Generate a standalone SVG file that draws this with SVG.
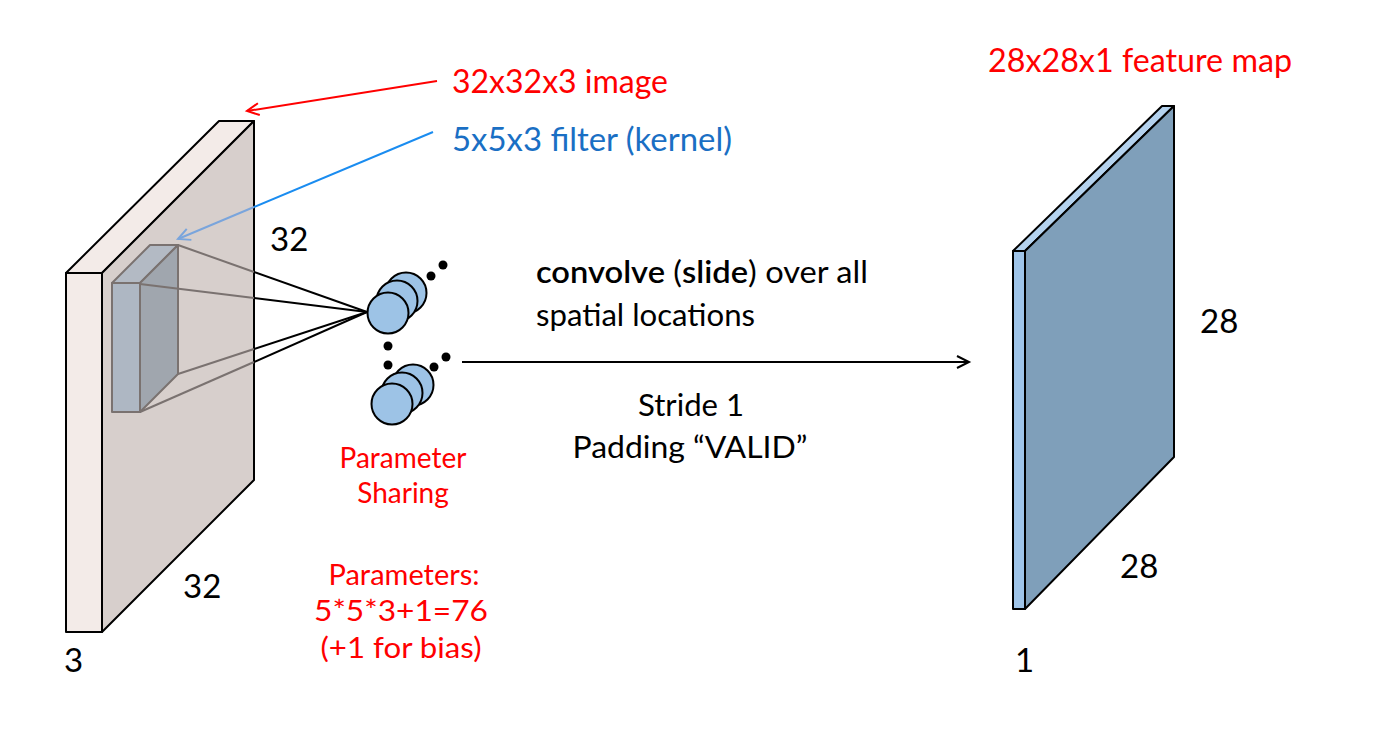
<svg xmlns="http://www.w3.org/2000/svg" width="1396" height="742" viewBox="0 0 1396 742">
<defs>
<style>
text{font-family:Lato,"Open Sans","Liberation Sans",sans-serif;}
.blk{fill:#000;}
.red{fill:#ff0000;}
.blu{fill:#1a6fc4;}
.edge{stroke:#000;stroke-width:2;stroke-linejoin:round;}
.neu{fill:#9dc3e6;stroke:#000;stroke-width:2;}
.dot{fill:#000;}
.flt{stroke:#7a7270;stroke-width:2;stroke-linejoin:round;}
</style>
<marker id="ahRed" markerWidth="20" markerHeight="20" refX="14" refY="8" orient="auto" markerUnits="userSpaceOnUse">
<path d="M2,2 L14,8 L2,14" fill="none" stroke="#ff0000" stroke-width="2"/>
</marker>
<marker id="ahBlue" markerWidth="20" markerHeight="20" refX="14" refY="8" orient="auto" markerUnits="userSpaceOnUse">
<path d="M2,2 L14,8 L2,14" fill="none" stroke="#7aa5dc" stroke-width="2"/>
</marker>
<marker id="ahBlk" markerWidth="20" markerHeight="20" refX="14" refY="8" orient="auto" markerUnits="userSpaceOnUse">
<path d="M2,2 L14,8 L2,14" fill="none" stroke="#000" stroke-width="2"/>
</marker>
</defs>
<rect width="1396" height="742" fill="#fff"/>

<g id="input-volume">
<polygon points="66,273 219,121 254,121 102,273" fill="#f3ebe8" class="edge"/>
<rect x="66" y="273" width="36" height="359" fill="#f3ebe8" class="edge"/>
<polygon points="102,273 254,121 254,480 102,632" fill="#d7cfcc" class="edge"/>
</g>

<g id="filter">
<polygon points="112,283 150,245 178,245 140,283" fill="#b3bac4" class="flt"/>
<rect x="112" y="283" width="28" height="129" fill="#aeb7c3" class="flt"/>
<polygon points="140,283 178,245 178,374 140,412" fill="#a0a6ae" class="flt"/>
</g>

<g id="connectors">
<g stroke="#7a7270" stroke-width="2">
<line x1="178" y1="245" x2="254" y2="272"/>
<line x1="140" y1="284" x2="254" y2="298"/>
<line x1="178" y1="374" x2="254" y2="349"/>
<line x1="140" y1="412" x2="254" y2="362"/>
</g>
<g stroke="#000" stroke-width="2">
<line x1="254" y1="272" x2="367" y2="312"/>
<line x1="254" y1="298" x2="367" y2="312"/>
<line x1="254" y1="349" x2="367" y2="312"/>
<line x1="254" y1="362" x2="367" y2="312"/>
</g>
<line x1="437" y1="81" x2="247" y2="111" stroke="#ff0000" stroke-width="2" marker-end="url(#ahRed)"/>
<line x1="433" y1="132" x2="254" y2="207" stroke="#1a8cf0" stroke-width="2"/>
<line x1="254" y1="207" x2="178" y2="239" stroke="#7aa5dc" stroke-width="2" marker-end="url(#ahBlue)"/>
<line x1="462" y1="362" x2="969" y2="362" stroke="#000" stroke-width="2" marker-end="url(#ahBlk)"/>
</g>

<g id="neuron-top">
<circle cx="406" cy="293" r="20.5" class="neu"/>
<circle cx="397" cy="301" r="20.5" class="neu"/>
<circle cx="388" cy="313" r="20.5" class="neu"/>
<circle cx="431" cy="276" r="4.5" class="dot"/>
<circle cx="443" cy="265" r="4.5" class="dot"/>
</g>
<g id="neuron-dots">
<circle cx="388" cy="346" r="4.5" class="dot"/>
<circle cx="388" cy="365" r="4.5" class="dot"/>
<circle cx="434" cy="367" r="4.5" class="dot"/>
<circle cx="446" cy="357" r="4.5" class="dot"/>
</g>
<g id="neuron-bottom">
<circle cx="413" cy="385" r="20.5" class="neu"/>
<circle cx="402" cy="393" r="20.5" class="neu"/>
<circle cx="392" cy="404" r="20.5" class="neu"/>
</g>

<g id="output-map">
<polygon points="1013,251 1162,106 1174,106 1025,251" fill="#b4d2ee" class="edge"/>
<rect x="1013" y="251" width="12" height="358" fill="#9fc4e8" class="edge"/>
<polygon points="1025,251 1174,106 1174,457 1025,609" fill="#7f9fba" class="edge"/>
</g>

<g id="labels">
<text x="452" y="93" font-size="32" class="red" textLength="216" lengthAdjust="spacingAndGlyphs">32x32x3 image</text>
<text x="452" y="151" font-size="32" class="blu" textLength="280" lengthAdjust="spacingAndGlyphs">5x5x3 filter (kernel)</text>
<text x="988" y="72" font-size="32" class="red" textLength="304" lengthAdjust="spacingAndGlyphs">28x28x1 feature map</text>
<text x="270" y="251" font-size="33" class="blk">32</text>
<text x="183" y="598" font-size="33" class="blk">32</text>
<text x="64" y="672" font-size="33" class="blk">3</text>
<text x="1200" y="333" font-size="33" class="blk">28</text>
<text x="1120" y="578" font-size="33" class="blk">28</text>
<text x="1015" y="672" font-size="33" class="blk">1</text>
<text x="536" y="283" font-size="30" class="blk" textLength="332" lengthAdjust="spacingAndGlyphs"><tspan font-weight="600">convolve</tspan> (<tspan font-weight="600">slide</tspan>) over all</text>
<text x="536" y="326" font-size="30" class="blk" textLength="219" lengthAdjust="spacingAndGlyphs">spatial locations</text>
<text x="691" y="416" font-size="30" class="blk" text-anchor="middle" textLength="106" lengthAdjust="spacingAndGlyphs">Stride 1</text>
<text x="690" y="458" font-size="30" class="blk" text-anchor="middle" textLength="235" lengthAdjust="spacingAndGlyphs">Padding “VALID”</text>
<text x="403" y="468" font-size="28" class="red" text-anchor="middle">Parameter</text>
<text x="403" y="503" font-size="28" class="red" text-anchor="middle">Sharing</text>
<text x="404" y="585" font-size="28" class="red" text-anchor="middle" textLength="151" lengthAdjust="spacingAndGlyphs">Parameters:</text>
<text x="401" y="621" font-size="28" class="red" text-anchor="middle" textLength="174" lengthAdjust="spacingAndGlyphs">5*5*3+1=76</text>
<text x="401" y="658" font-size="28" class="red" text-anchor="middle" textLength="161" lengthAdjust="spacingAndGlyphs">(+1 for bias)</text>
</g>
</svg>
